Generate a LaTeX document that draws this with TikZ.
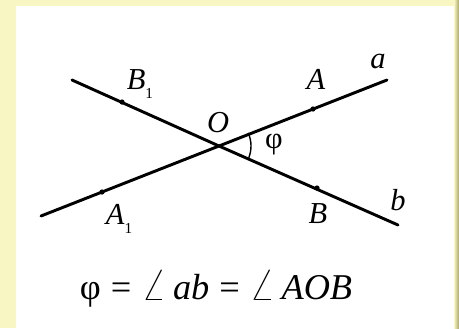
\documentclass[tikz,border=0pt]{standalone}
\usepackage{fontspec}
\setmainfont{Liberation Serif}
\usepackage{tikz}
\usetikzlibrary{calc,positioning}

\definecolor{paleyellow}{HTML}{F8F6C2}
\definecolor{shadowolive}{HTML}{A9A468}

\tikzset{
  ray/.style={line width=2.5pt, line cap=round},
  pt/.style={fill=black},
  lbl/.style={font=\fontsize{26}{30}\selectfont, inner sep=0pt},
}
\newcommand{\subone}{\raisebox{-0.6ex}{\fontsize{13}{14}\selectfont 1}}
\newcommand{\bigangle}{\scalebox{1.35}{$\angle$}}

\begin{document}
\begin{tikzpicture}[x=0.03cm, y=-0.03cm]
			% Background and panel
			\fill[paleyellow] (0,0) rectangle (459,328);
			\useasboundingbox (0,0) rectangle (459,328);
			\shade[left color=paleyellow, right color=shadowolive] (454,0) rectangle (459,328);
			\fill[white] (16,6) rectangle (454,328);
			
			% End points and intersection
			\coordinate (O) at (219,146);
			\coordinate (Aend) at (41,216);
			\coordinate (aend) at (387,80);
			\coordinate (Bend) at (72,80);
			\coordinate (bend) at (398,225);
			
			% Line a and line b
			\draw[ray] (Aend) -- (O) -- (aend);
			\draw[ray] (Bend) -- (O) -- (bend);
			
			% Points on the lines
			\fill[pt] (313,109) circle (2.6);
			\fill[pt] (102,192) circle (2.6);
			\fill[pt] (122,102) circle (2.6);
			\fill[pt] (317,188) circle (2.6);
			
			% Angle between a and b
			\draw[line width=1.2pt] ($(O)+(-24:32)$) arc[start angle=-24, end angle=21.5, radius=32];
			
			% Labels
			\node[lbl] (labB1) at (140,84) {\textit{B}\subone};
			\node[lbl] (labA) at (316,79) {\textit{A}};
			\node[lbl] (laba) at (378,61) {\textit{a}};
			\node[lbl] (labO) at (218,123) {\textit{O}};
			\node[lbl] (labphi) at (274,145) {φ};
			\node[lbl] (labA1) at (119,219) {\textit{A}\subone};
			\node[lbl] (labB) at (318,214) {\textit{B}};
			\node[lbl] (labb) at (398,200) {\textit{b}};
			
			% Formula
			\node[lbl, font=\fontsize{31}{36}\selectfont] (formula) at (216,289)
			{φ\;=\;\bigangle\,\textit{ab}\;=\;\bigangle\,\textit{AOB}};
		\end{tikzpicture}
\end{document}
